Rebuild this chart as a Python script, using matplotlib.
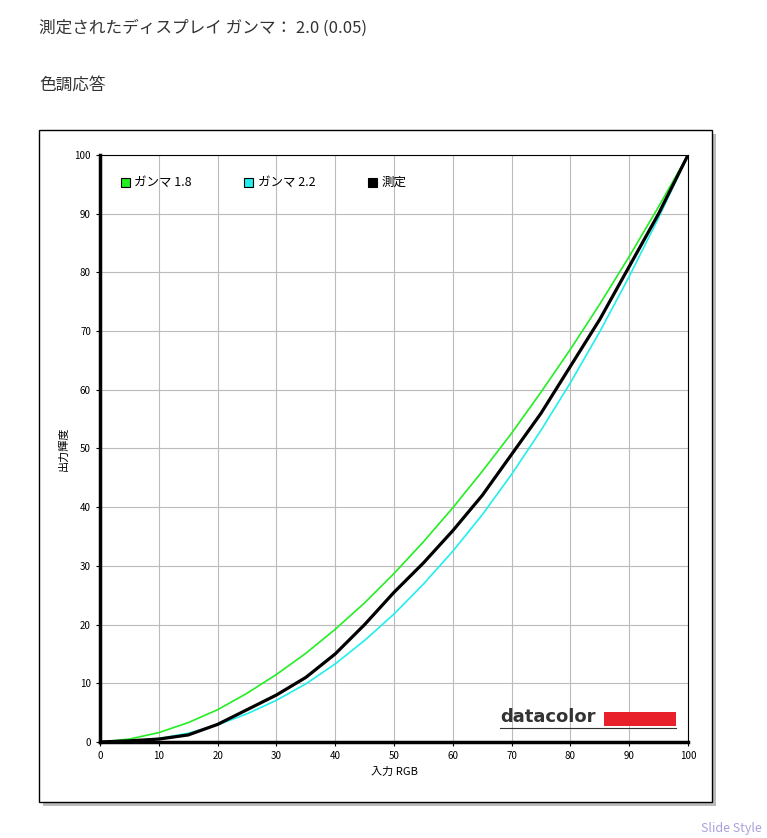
import matplotlib
matplotlib.use('Agg')
import matplotlib.pyplot as plt
from matplotlib.patches import Rectangle

plt.rcParams['font.family'] = ['Noto Sans CJK JP', 'DejaVu Sans']

# values
x = [0, 5, 10, 15, 20, 25, 30, 35, 40, 45, 50, 55, 60, 65, 70, 75, 80, 85, 90, 95, 100]
gamma18 = [0, 0.5, 1.6, 3.3, 5.5, 8.3, 11.5, 15.1, 19.2, 23.7, 28.7, 34.1, 39.9, 46.1, 52.6, 59.6, 66.9, 74.6, 82.7, 91.2, 100]
gamma22 = [0, 0.1, 0.6, 1.5, 2.9, 4.8, 7.1, 9.9, 13.3, 17.3, 21.8, 26.9, 32.5, 38.7, 45.6, 53.1, 61.2, 69.9, 79.3, 89.3, 100]
measured = [0, 0.2, 0.5, 1.2, 3.0, 5.5, 8.0, 11.0, 15.0, 20.0, 25.5, 30.5, 36.0, 42.0, 49.0, 56.0, 64.0, 72.0, 81.0, 90.0, 100]
legend_labels = ['ガンマ 1.8', 'ガンマ 2.2', '測定']
legend_colors = ['#22ee22', '#22eeee', '#000000']
ticks = list(range(0, 101, 10))

W, H = 767, 838
fig = plt.figure(figsize=(W / 100, H / 100), dpi=100)
fig.patch.set_facecolor('white')

fig.text(39 / W, 1 - 28 / H, '測定されたディスプレイ ガンマ： 2.0 (0.05)', fontsize=12, color='#333333', va='center')
fig.text(39 / W, 1 - 85 / H, '色調応答', fontsize=12, color='#333333', va='center')
fig.text(762 / W, 1 - 828 / H, 'Slide Style', fontsize=9, color='#a9a0dd', ha='right', va='center')

# frame with shadow
fig.patches.append(Rectangle((43 / W, 1 - 806 / H), 673 / W, 672 / H, transform=fig.transFigure,
                             facecolor='#bbbbbb', edgecolor='none', zorder=-2))
fig.patches.append(Rectangle((39 / W, 1 - 802 / H), 673 / W, 672 / H, transform=fig.transFigure,
                             facecolor='white', edgecolor='black', linewidth=1, zorder=-1))

ax = fig.add_axes([100 / W, 1 - 742 / H, 588 / W, 587 / H])
ax.set_zorder(2)
ax.plot(x, gamma18, color=legend_colors[0], linewidth=1.2)
ax.plot(x, gamma22, color=legend_colors[1], linewidth=1.2)
ax.plot(x, measured, color=legend_colors[2], linewidth=2.3)
ax.set_xlim(0, 100)
ax.set_ylim(0, 100)
ax.set_xticks(ticks)
ax.set_yticks(ticks)
ax.grid(True, color='#bbbbbb', linewidth=0.8)
ax.tick_params(labelsize=7, length=3)
for s in ['left', 'bottom']:
    ax.spines[s].set_linewidth(2.5)
for s in ['top', 'right']:
    ax.spines[s].set_linewidth(0.8)
ax.set_xlabel('入力 RGB', fontsize=8)
ax.set_ylabel('出力輝度', fontsize=8)

# legend
lx = [3.5, 24.5, 45.5]
for px, lab, col in zip(lx, legend_labels, legend_colors):
    ax.add_patch(Rectangle((px, 94.5), 1.6, 1.6, facecolor=col, edgecolor='black', linewidth=0.8, zorder=5))
    ax.text(px + 2.3, 95.3, lab, fontsize=9, va='center', zorder=5)

# datacolor logo
ax.text(68, 4.3, 'datacolor', fontsize=13, fontweight='bold', color='#333333', va='center',
        family='DejaVu Sans')
ax.add_patch(Rectangle((85.7, 2.8), 12.3, 2.3, facecolor='#e8202a', edgecolor='none', zorder=5))
ax.plot([68, 98], [2.3, 2.3], color='#333333', linewidth=0.8)

fig.savefig('out.png', dpi=100)
